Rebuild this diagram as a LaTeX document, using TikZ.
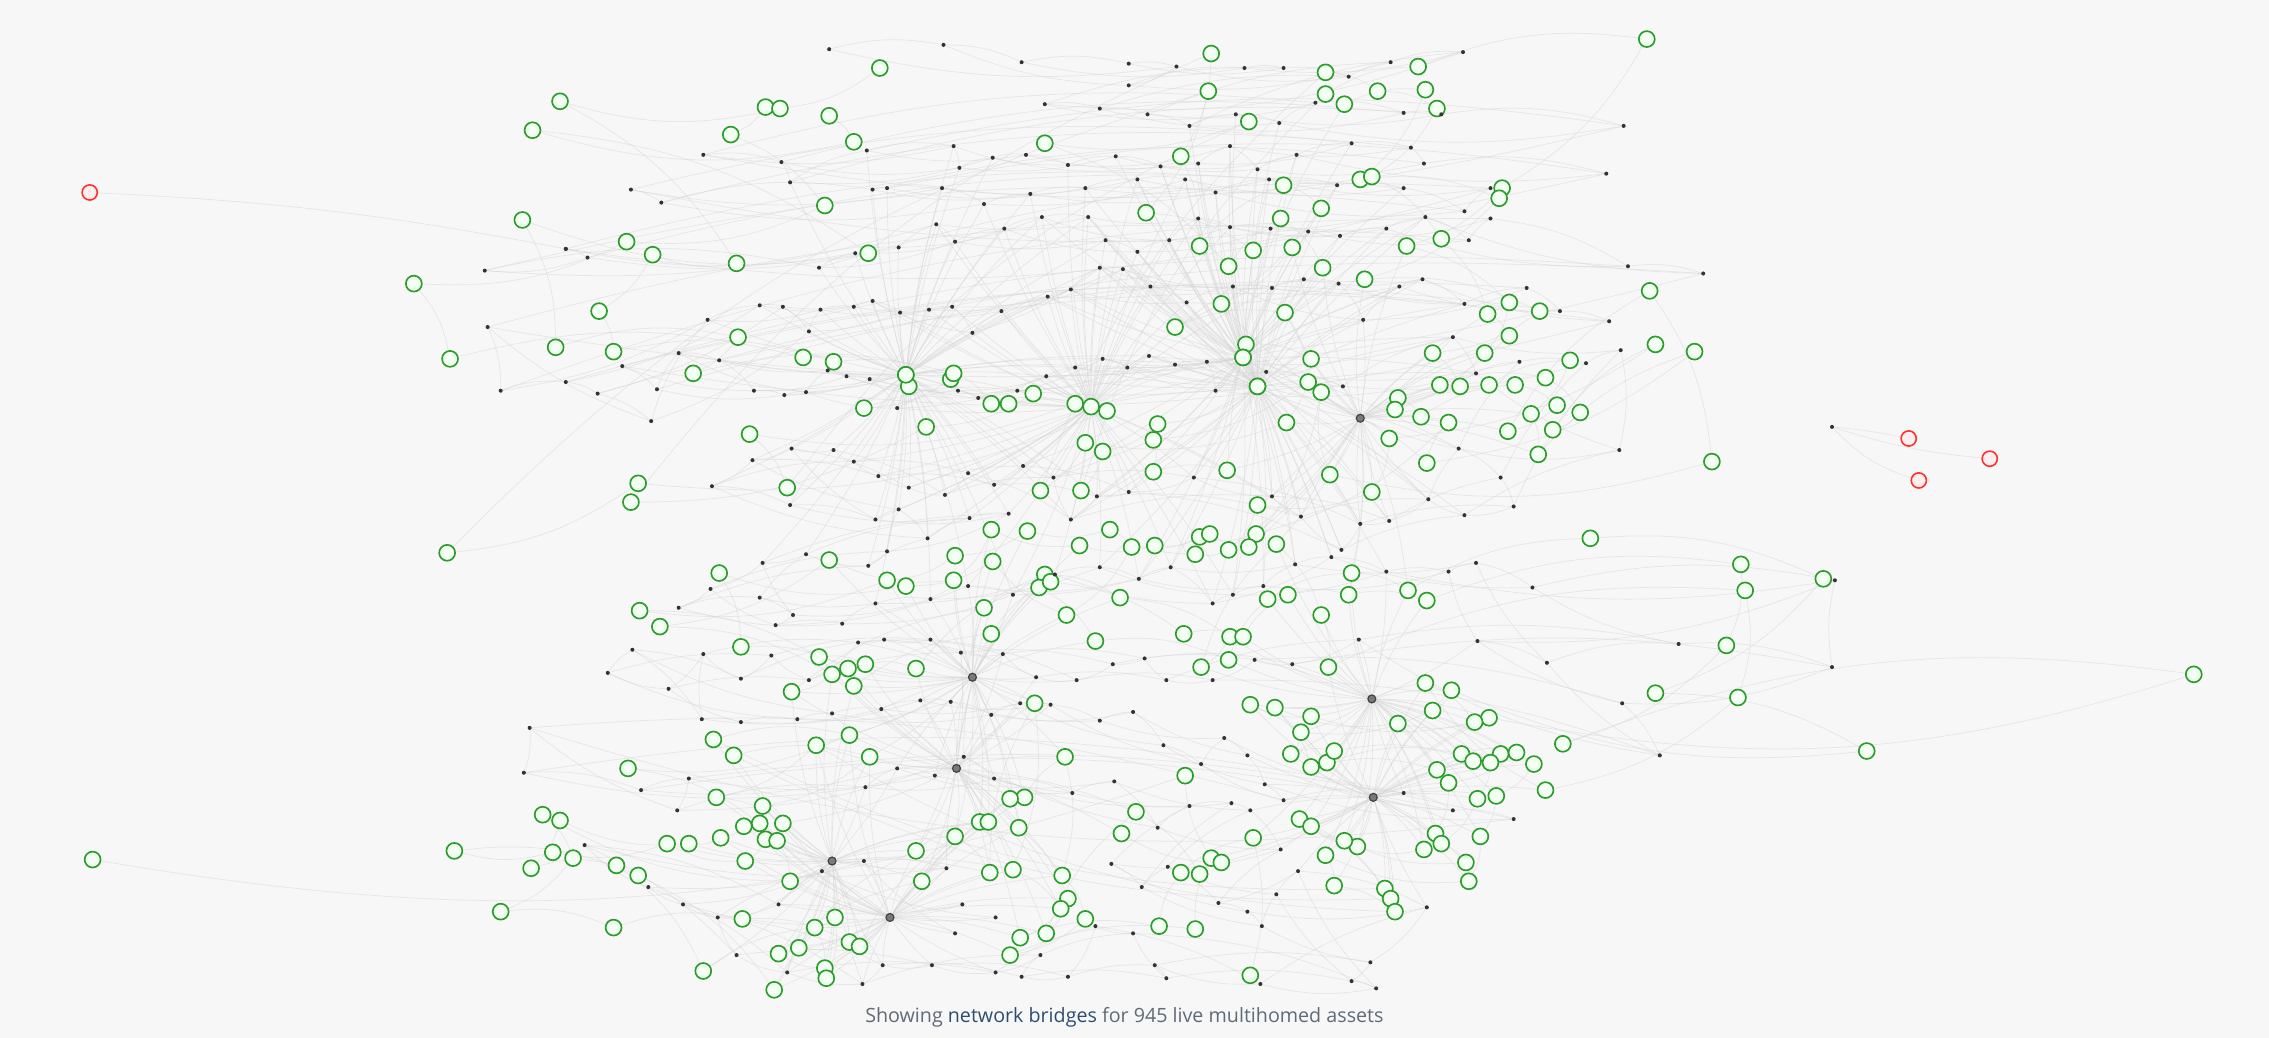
\documentclass[tikz,border=0pt]{standalone}
\usepackage{fontspec}
\setmainfont{Open Sans}
\usepackage{xcolor}
\usepackage{tikz}

\definecolor{canvas}{HTML}{F7F7F7}
\definecolor{livegreen}{HTML}{2A9D2A}
\definecolor{livefill}{HTML}{F2FFF2}
\definecolor{deadred}{HTML}{FF3030}
\definecolor{deadfill}{HTML}{FFEEEE}
\definecolor{linkgray}{HTML}{D6D6D6}
\definecolor{hubgray}{HTML}{7A7A7A}
\definecolor{captiongray}{HTML}{5F6B76}
\definecolor{captionblue}{HTML}{2E4D6E}

\pgfdeclarelayer{canvaslayer}
\pgfdeclarelayer{links}
\pgfsetlayers{canvaslayer,links,main}

% live assets (green rings)
\newcommand{\livelist}{608/47,573/80,529/74,539/75,590/98,505/93,387/70,368/90,570/142,509/182,600/175,433/167,451/176,361/152,286/196,414/215,384/240,311/248,424/243,510/233,555/247,576/250,479/258,626/259,657/262,659/258,628/267,597/282,685/279,697/279,714/272,743/279,765/284,640/295,518/300,441/334,436/347,544/337,309/382,
837/37,863/84,835/63,816/108,722/99,792/147,829/170,849/184,866/173,887/128,885/151,893/171,913/144,914/185,844/210,812/226,861/238,859/247,888/216,906/248,869/267,904/264,889/292,800/293,797/304,750/306,762/312,797/326,719/339,747/339,848/325,
916/50,916/65,929/72,952/63,980/46,985/62,993/75,1138/27,940/124,948/122,1038/130,1036/137,996/165,972/170,943/193,1028/217,1043/209,1064/215,1043/232,1026/244,990/244,966/275,964/283,1009/267,982/288,995/266,1029/266,1047/266,1068/261,1085/249,1076/280,1092/285,1058/286,1042/298,1073/297,1063/314,1140/201,1144/238,1171/243,1183/319,960/303,986/320,919/328,948/340,1001/292,913/271,
869/349,868/369,863/378,849/380,829/371,836/369,826/383,798/377,782/378,767/366,746/377,737/425,710/367,685/366,686/388,660/384,659/401,626/405,613/401,573/387,497/396,442/422,456/433,512/447,566/454,575/466,586/462,598/459,547/478,590/474,633/462,680/420,685/438,722/397,718/406,726/402,774/413,757/443,818/438,850/440,849/456,859/440,830/461,876/414,890/411,882/376,934/396,932/411,913/425,973/408,986/415,918/461,
1099/372,1203/390,1206/408,1260/400,1193/446,1201/482,1144/479,1080/514,1068/546,1290/519,1516/466,985/472,1003/477,1029/496,1019/499,990/491,966/500,906/495,899/506,881/489,864/487,892/521,906/530,917/527,922/519,993/532,1010/521,1018/526,1037/521,1048/520,1030/527,1060/528,1001/541,1021/552,1034/550,992/576,996/583,1023/578,984/587,1013/596,1015/609,938/585,929/581,916/591,898/566,906/571,922/612,957/614,961/621,964/630,
493/511,507/522,564/515,587/508,601/523,495/551,434/531,527/557,541/569,525/569,514/571,529/580,537/581,498/579,515/595,546/609,476/583,461/583,375/563,387/567,382/589,396/593,367/600,314/588,346/630,426/598,441/605,424/641,486/671,535/684,513/635,563/641,577/634,587/651,570/669,571/676,552/655,538/659,594/654,633/588,637/609,660/578,677/568,683/568,684/603,708/551,698/552,715/486,736/523,704/572,700/601,734/605,738/621,733/628,750/635,723/645,705/648,698/660,785/561,801/640,826/642,829/604,816/603,837/593,844/596,866/579,819/536,775/576,864/674,64/594}

% unscanned hosts (small dots)
\newcommand{\hostlist}{573/34,652/31,706/43,780/44,813/46,780/59,860/47,887/47,932/53,961/43,1011/36,722/72,760/75,793/79,822/87,854/79,884/85,909/71,970/78,996/79,1122/87,486/107,540/112,546/126,599/104,659/101,663/116,686/109,709/107,738/114,771/108,802/115,828/113,850/101,869/117,896/107,934/99,975/102,984/113,1110/120,436/131,457/140,603/131,613/130,651/130,680/141,712/134,750/130,786/124,819/124,840/133,877/124,924/128,970/130,1012/146,1030/130,391/172,406/178,335/187,566/185,591/175,621/171,647/155,660/167,694/158,720/150,752/150,764/166,786/174,808/166,828/151,850/157,878/158,904/160,926/163,958/158,985/150,1015/166,1030/151,1125/184,1177/189,
337/226,346/270,391/264,413/272,450/291,489/221,525/211,541/212,559/229,567/214,590/212,603/208,622/216,642/214,658/212,672/230,692/215,724/205,740/200,760/185,776/186,795/198,820/209,852/198,879/199,901/193,925/196,942/221,967/198,983/193,1012/210,1055/199,1078/215,1112/222,
430/253,454/269,469/244,497/249,521/270,542/273,557/271,572/256,585/260,601/262,620/282,662/270,676/275,703/270,723/260,743/254,762/248,779/254,794/246,812/252,834/250,840/270,875/257,928/267,1004/233,1020/258,1050/250,1096/251,1120/242,1119/311,1008/310,1037/330,1046/350,1012/356,987/345,960/360,940/362,927/380,899/357,879/343,825/330,780/340,758/343,740/359,728/330,707/322,687/335,669/327,653/342,628/337,607/329,590/319,576/311,547/310,520/318,492/336,
546/349,605/359,621/352,641/372,670/358,697/355,613/381,600/391,557/383,527/389,491/407,469/420,525/413,548/425,536/432,582/431,605/417,643/414,669/405,700/411,729/397,760/392,787/400,809/392,838/417,852/411,873/405,895/390,920/385,958/395,1001/395,1020/389,1059/406,1268/401,1021/443,1069/458,1160/445,1266/461,1121/486,1147/522,
939/442,893/459,867/456,838/470,806/470,791/455,769/459,744/470,716/468,693/452,664/451,643/442,611/442,593/444,559/470,533/453,512/469,486/452,462/476,420/465,437/449,485/497,512/499,551/497,575/493,609/490,636/484,657/485,685/494,705/486,726/487,760/498,783/492,804/515,830/528,846/510,862/522,874/542,887/553,970/548,1004/560,1046/566,366/503,362/534,443/546,476/538,468/560,598/544,620/531,646/536,666/523,687/538,741/548,770/540,800/572,822/557,851/555,864/560,885/587,
768/597,789/613,807/599,842/624,862/630,872/640,882/618,897/602,986/627,947/665,934/678,951/683,871/680,798/667,806/676,783/645,757/640,738/675,706/675,719/660,688/672,644/667,610/667,596/680,544/672,509/660,496/634,472/625,448/613,404/584,538/625,568/602,597/595,654/600,665/625,688/634,660/645}

% bridge hubs
\newcommand{\hublist}{940/289,672/468,948/483,661/531,949/551,575/595,615/634}
% busy live assets where many links meet
\newcommand{\focuslist}{754/281,626/259,859/247,869/267}

\begin{document}
\begin{tikzpicture}[x=1pt, y=-1pt,
  live/.style={circle, draw=livegreen, fill=livefill, line width=1.15pt, minimum size=11pt, inner sep=0pt},
  dead/.style={circle, draw=deadred, fill=deadfill, line width=1.1pt, minimum size=10.5pt, inner sep=0pt},
  host/.style={circle, fill=black!80, minimum size=2.8pt, inner sep=0pt},
  hub/.style={circle, draw=black!75, fill=hubgray, line width=0.8pt, minimum size=5.5pt, inner sep=0pt},
  link/.style={draw=linkgray, line width=0.5pt, opacity=0.5}]

% Canvas
\begin{pgfonlayer}{canvaslayer}
\fill[canvas] (0,0) rectangle (1568,717);
\end{pgfonlayer}
\useasboundingbox (0,0) rectangle (1568,717);

% Nodes
\foreach \x/\y [count=\i] in \livelist {\node[live] (g\i) at (\x,\y) {}; \xdef\nlive{\i}}
\foreach \x/\y [count=\i] in \hostlist {\node[host] (d\i) at (\x,\y) {}; \xdef\nhosts{\i}}
\foreach \x/\y [count=\i] in \focuslist {\node[live] (f\i) at (\x,\y) {};}
\foreach \x/\y [count=\i] in \hublist {\node[hub] (h\i) at (\x,\y) {};}
\node[host] (rb) at (1266,295) {};
\node[host] (lb) at (391,172) {};
\node[dead] (r1) at (62,133) {};
\node[dead] (r2) at (1319,303) {};
\node[dead] (r3) at (1375,317) {};
\node[dead] (r4) at (1326,332) {};

% Links
\begin{pgfonlayer}{links}
\foreach \hx/\hy [count=\k] in \hublist {
  \foreach \x/\y [count=\i] in \livelist {
    \pgfmathtruncatemacro{\near}{veclen(\x-\hx,\y-\hy)<130}
    \ifnum\near=1 \draw[link] (h\k) to[bend left=8] (g\i); \fi
  }
  \foreach \x/\y [count=\i] in \hostlist {
    \pgfmathtruncatemacro{\near}{veclen(\x-\hx,\y-\hy)<90}
    \ifnum\near=1 \draw[link] (h\k) to[bend right=6] (d\i); \fi
  }
}
\foreach \hx/\hy [count=\k] in \focuslist {
  \foreach \x/\y [count=\i] in \hostlist {
    \pgfmathtruncatemacro{\near}{veclen(\x-\hx,\y-\hy)<170}
    \ifnum\near=1 \draw[link] (f\k) to[bend left=5] (d\i); \fi
  }
}
\pgfmathtruncatemacro{\lasthost}{\nhosts-4}
\foreach \i in {1,...,\lasthost} {
  \pgfmathtruncatemacro{\j}{\i+1}
  \pgfmathtruncatemacro{\m}{\i+4}
  \draw[link] (d\i) to[bend left=12] (d\j);
  \draw[link] (d\i) to[bend right=10] (d\m);
}
\pgfmathtruncatemacro{\lastlive}{\nlive-3}
\foreach \i in {1,...,\lastlive} {
  \pgfmathtruncatemacro{\j}{\i+3}
  \draw[link] (g\i) to[bend left=14] (g\j);
}
\draw[link] (r1) to[bend left=4] (lb);
\draw[link] (r2) to[bend right=3] (rb);
\draw[link] (r3) to[bend left=6] (rb);
\draw[link] (r4) to[bend left=14] (rb);
\end{pgfonlayer}

% Caption
\node[font=\fontsize{13.6}{16}\selectfont, text=captiongray] (caption) at (777,703)
  {Showing \textcolor{captionblue}{network bridges} for 945 live multihomed assets};
\end{tikzpicture}
\end{document}
